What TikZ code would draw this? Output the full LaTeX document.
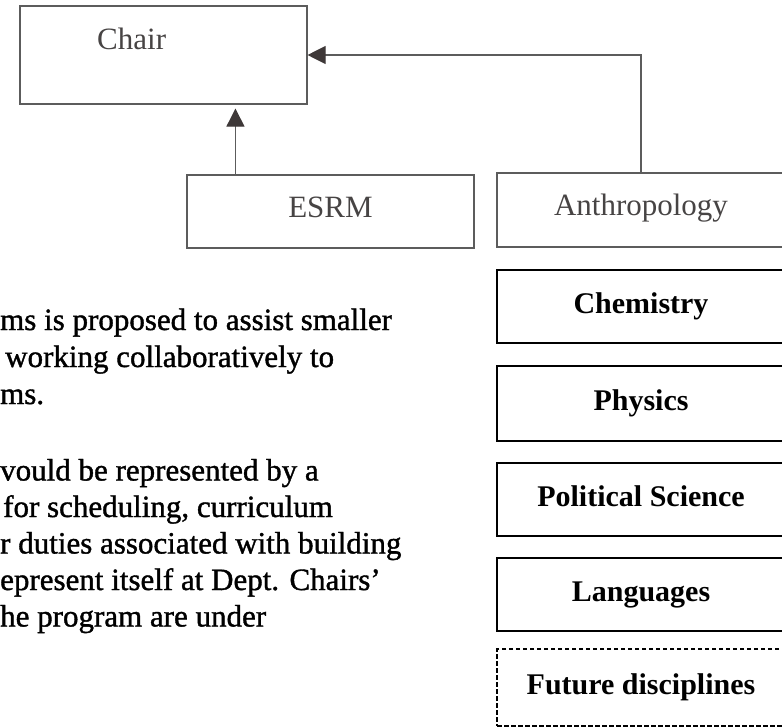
\documentclass[tikz,border=0pt]{standalone}
\usepackage{fontspec}
\setmainfont{Liberation Serif}
\newfontfamily\inkfont[FakeBold=1.2,Ligatures=TeX]{Liberation Serif}
\usetikzlibrary{calc,arrows.meta}
\definecolor{scan}{HTML}{474444}
\definecolor{frame}{HTML}{5C5C5C}
\definecolor{tipgray}{HTML}{3E3838}
\tikzset {>={Triangle[length=18pt,width=18pt,color=tipgray]}}
\tikzset{
  oldbox/.style={draw=frame,line width=1.1pt,inner sep=0pt,text=scan,
    font=\fontsize{31}{36}\selectfont,text height=20pt,text depth=9pt},
  unitbox/.style={draw,line width=2.8pt,inner sep=0pt,minimum width=288pt,
    minimum height=73pt,font=\bfseries\fontsize{30}{36}\selectfont,
    text height=20pt,text depth=6pt},
  planned/.style={unitbox,dash pattern=on 4.5pt off 2.5pt,line width=2.6pt},
  link/.style={draw=frame,line width=1.1pt},
  note/.style={anchor=base west,inner sep=0pt,font=\inkfont\fontsize{31}{36}\selectfont}
}
\begin{document}
\begin{tikzpicture}[x=1pt,y=-1pt]
\useasboundingbox (0,0) rectangle (782,726);
\clip (0,0) rectangle (782,726);
% present structure
\node[oldbox,minimum width=287pt,minimum height=98pt] (chair) at (163.5,55) {};
\node[anchor=base west,inner sep=0pt,text=scan,font=\fontsize{31}{36}\selectfont]
  (chairname) at (97,49) {Chair};
\node[oldbox,minimum width=287pt,minimum height=73pt] (esrm) at (330.5,211.5) {ESRM};
\node[oldbox,minimum width=288pt,minimum height=74pt] (anthro) at (641,210) {Anthropology};
\draw[link,->,shorten >=4pt] ([xshift=49pt]esrm.north west)
  -- ([xshift=49pt]esrm.north west |- chair.south);
\draw[link,->] (anthro.north) |- (chair.east);
% proposed units
\node[unitbox] (chem) at (641,306.5) {Chemistry};
\node[unitbox,minimum height=75pt] (phys) at (641,403.5) {Physics};
\node[unitbox] (polsci) at (641,499.5) {Political Science};
\node[unitbox] (lang) at (641,594.5) {Languages};
\node[planned,minimum height=77pt] (future) at (641,687.5) {Future disciplines};
% text
\foreach \x/\y/\txt [count=\i] in {0/330/{ms is proposed to assist smaller},
    5/367/{working collaboratively to}, 0/404/{ms.},
    0/480.5/{vould be represented by a}, 3/517/{for scheduling, curriculum},
    0/553.5/{r duties associated with building},
    0/590/{epresent itself at Dept. Chairs'}, 0/626.5/{he program are under}}
  \node[note] (line\i) at (\x,\y) {\txt};
\end{tikzpicture}
\end{document}
